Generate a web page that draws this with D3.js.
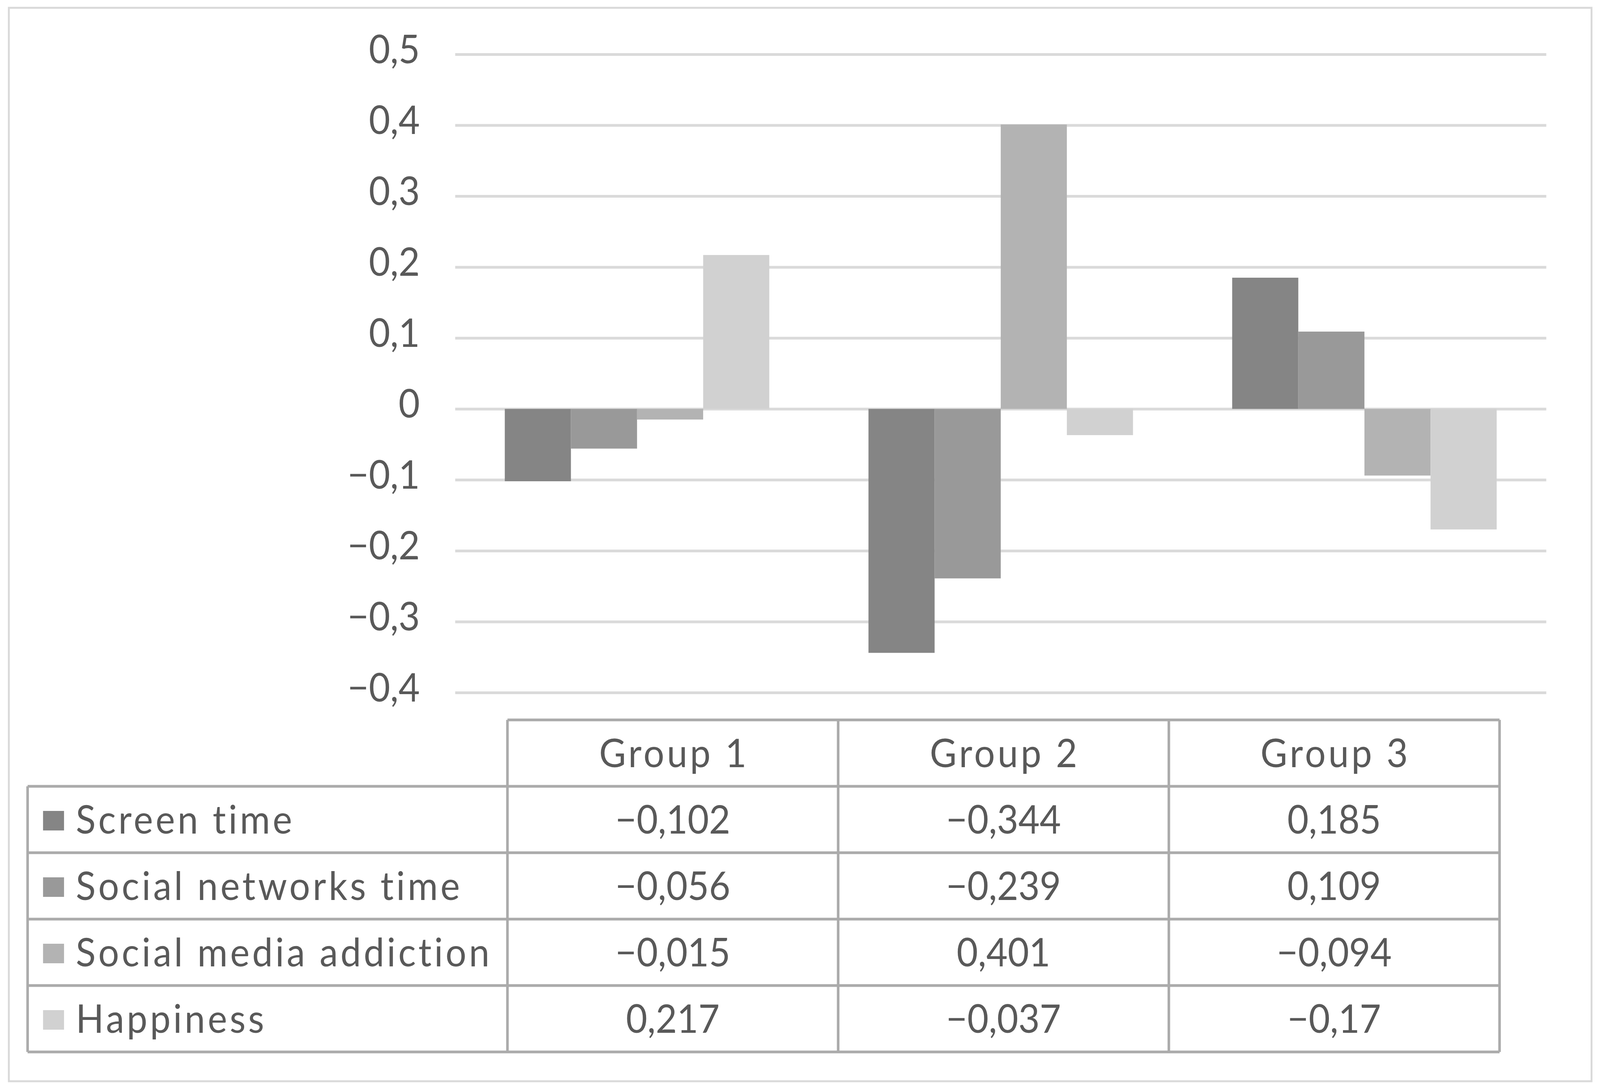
<!DOCTYPE html>
<html>
<head>
<meta charset="utf-8">
<script src="https://cdn.jsdelivr.net/npm/d3@7"></script>
<style>
  html, body { margin: 0; padding: 0; background: #fff; overflow: hidden; }
  #chart svg { display: block; width: 100vw; height: 100vh; }
  text { font-family: Lato, "Open Sans", sans-serif; fill: #595959; }
</style>
</head>
<body>
<div id="chart"></div>
<script>
const groups = ['Group 1', 'Group 2', 'Group 3']
const series = ['Screen time', 'Social networks time', 'Social media addiction', 'Happiness']
const colors = ['#858585', '#999999', '#b3b3b3', '#d1d1d1']

// values per series, in group order
const screenTime = [-0.102, -0.344, 0.185]
const socialNetworksTime = [-0.056, -0.239, 0.109]
const socialMediaAddiction = [-0.015, 0.401, -0.094]
const happiness = [0.217, -0.037, -0.17]
const values = [screenTime, socialNetworksTime, socialMediaAddiction, happiness]

const yTicks = [0.5, 0.4, 0.3, 0.2, 0.1, 0, -0.1, -0.2, -0.3, -0.4]

const width = 4348
const height = 2793
const fontSize = 100

const fmt = v => {
    if (v === 0) return '0'
    const s = Math.abs(v).toString().replace('.', ',')
    return (v < 0 ? '\u2212' : '') + s
}

const svg = d3.select('#chart')
    .append('svg')
    .attr('viewBox', `0 0 ${width} ${height}`)
    .attr('preserveAspectRatio', 'none')

// outer frame
svg.append('rect')
    .attr('x', 24).attr('y', 20)
    .attr('width', 4301).attr('height', 2748)
    .attr('fill', '#fff')
    .attr('stroke', '#d9d9d9')
    .attr('stroke-width', 5)

const plotLeft = 1237
const plotRight = 4202

const y = d3.scaleLinear()
    .domain([-0.4, 0.5])
    .range([1773, 139])

const x0 = d3.scaleBand()
    .domain(groups)
    .range([plotLeft, plotRight])

const x1 = d3.scaleBand()
    .domain(series)
    .range([0, x0.bandwidth()])
    .paddingOuter(0.75)

// y axis with gridlines
const yAxis = svg.append('g')
    .attr('transform', `translate(${plotLeft},0)`)
    .call(d3.axisLeft(y)
        .tickValues(yTicks)
        .tickFormat(fmt)
        .tickSizeInner(-(plotRight - plotLeft))
        .tickSizeOuter(0)
        .tickPadding(96))

yAxis.select('.domain').remove()
yAxis.selectAll('.tick line')
    .attr('stroke', '#dadada')
    .attr('stroke-width', 7)
yAxis.selectAll('.tick text')
    .attr('font-size', fontSize)
    .attr('font-family', 'Lato, sans-serif')
    .attr('fill', '#595959')
    .attr('dy', '0.22em')

// bars
const groupG = svg.append('g').selectAll('g')
    .data(groups)
    .enter()
    .append('g')
    .attr('transform', d => `translate(${x0(d)},0)`)

groupG.selectAll('rect')
    .data((g, gi) => series.map((s, si) => ({series: s, si, value: values[si][gi]})))
    .enter()
    .append('rect')
    .attr('x', d => x1(d.series))
    .attr('width', x1.bandwidth())
    .attr('y', d => y(Math.max(0, d.value)))
    .attr('height', d => Math.abs(y(d.value) - y(0)))
    .attr('fill', d => colors[d.si])

// data table
const tableLeft = 75
const colLeft = 1379
const colRight = 4075
const headTop = 1843
const bodyTop = 2013
const bodyBottom = 2693

const tx = d3.scaleBand()
    .domain(groups)
    .range([colLeft, colRight])

const ty = d3.scaleBand()
    .domain(series)
    .range([bodyTop, bodyBottom])

const table = svg.append('g')
const lineColor = '#ababab'
const lineW = 7

const hline = (x1_, x2_, yy) => table.append('line')
    .attr('x1', x1_).attr('x2', x2_).attr('y1', yy).attr('y2', yy)
    .attr('stroke', lineColor).attr('stroke-width', lineW)
const vline = (xx, y1_, y2_) => table.append('line')
    .attr('x1', xx).attr('x2', xx).attr('y1', y1_).attr('y2', y2_)
    .attr('stroke', lineColor).attr('stroke-width', lineW)

hline(colLeft, colRight, headTop)
series.forEach(s => hline(tableLeft, colRight, ty(s)))
hline(tableLeft, colRight, bodyBottom)
vline(tableLeft, bodyTop, bodyBottom)
groups.forEach(g => vline(tx(g), headTop, bodyBottom))
vline(colRight, headTop, bodyBottom)

const capShift = fontSize * 0.36
const labelSpacing = 7

// header
table.selectAll('.head')
    .data(groups)
    .enter()
    .append('text')
    .attr('class', 'head')
    .attr('x', d => tx(d) + tx.bandwidth() / 2 + labelSpacing / 2)
    .attr('y', (headTop + bodyTop) / 2 + capShift)
    .attr('text-anchor', 'middle')
    .attr('font-size', fontSize)
    .attr('letter-spacing', labelSpacing)
    .text(d => d)

// row labels with legend keys
const rows = table.selectAll('.row')
    .data(series)
    .enter()
    .append('g')
    .attr('class', 'row')
    .attr('transform', d => `translate(0,${ty(d) + ty.bandwidth() / 2})`)

rows.append('rect')
    .attr('x', 117)
    .attr('y', -22)
    .attr('width', 57)
    .attr('height', 50)
    .attr('fill', (d, i) => colors[i])

rows.append('text')
    .attr('x', 206)
    .attr('y', capShift)
    .attr('font-size', fontSize)
    .attr('letter-spacing', labelSpacing)
    .text(d => d)

rows.each(function(s, si) {
    d3.select(this).selectAll('.val')
        .data(values[si])
        .enter()
        .append('text')
        .attr('class', 'val')
        .attr('x', (v, gi) => tx(groups[gi]) + tx.bandwidth() / 2)
        .attr('y', capShift)
        .attr('text-anchor', 'middle')
        .attr('font-size', fontSize)
        .text(v => fmt(v))
})
</script>
</body>
</html>
